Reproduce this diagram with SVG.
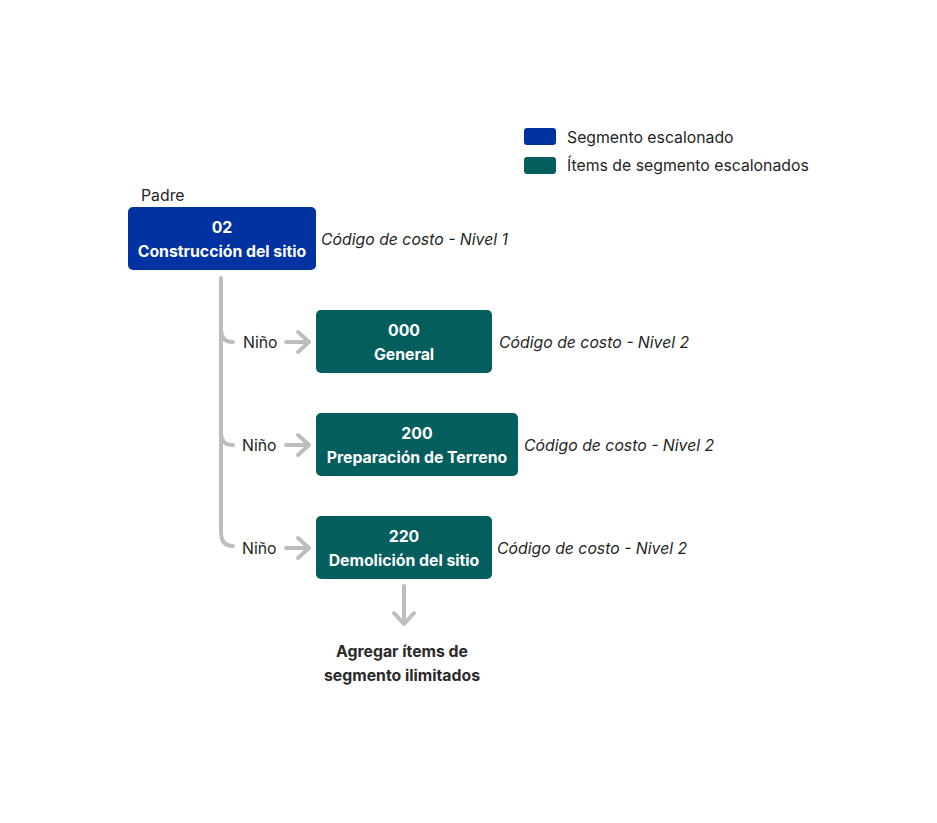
<svg xmlns="http://www.w3.org/2000/svg" width="937" height="823" viewBox="0 0 937 823">
<style>
.t{font-family:Inter,"Liberation Sans",sans-serif;font-size:15.8px;fill:#1f1f1f}
.b{font-family:Inter,"Liberation Sans",sans-serif;font-size:15.8px;font-weight:bold;fill:#ffffff;text-anchor:middle}
.i{font-family:Inter,"Liberation Sans",sans-serif;font-size:15.8px;font-style:italic;fill:#1f1f1f}
.k{font-family:Inter,"Liberation Sans",sans-serif;font-size:15.8px;font-weight:bold;fill:#2a2a2a;text-anchor:middle}
.ln{fill:none;stroke:#bdbdbd;stroke-width:4;stroke-linecap:round;stroke-linejoin:round}
.blue{fill:#0033a1}
.teal{fill:#045e5e}
</style>
<rect width="937" height="823" fill="#ffffff"/>
<g id="legend">
<rect class="blue" x="524" y="128" width="32" height="17" rx="3"/>
<text class="t" x="567" y="143">Segmento escalonado</text>
<rect class="teal" x="524" y="157" width="32" height="17" rx="3"/>
<text class="t" x="567" y="171">Ítems de segmento escalonados</text>
</g>
<g id="connectors">
<path class="ln" d="M221 278 V532 Q221 546 233 546"/>
<path class="ln" d="M221 330 Q221 342 233 342"/>
<path class="ln" d="M221 433 Q221 445 233 445"/>
<path class="ln" d="M286 342 H309 M298 332 L309 342 L298 352"/>
<path class="ln" d="M286 445 H309 M298 435 L309 445 L298 455"/>
<path class="ln" d="M286 548 H309 M298 538 L309 548 L298 558"/>
<path class="ln" d="M404 586 V624 M394 613 L404 624 L414 613"/>
</g>
<g id="parent">
<text class="t" x="141" y="201">Padre</text>
<rect class="blue" x="128" y="207" width="188" height="63" rx="5"/>
<text class="b" x="222" y="233">02</text>
<text class="b" x="222" y="257">Construcción del sitio</text>
<text class="i" x="321" y="245">Código de costo - Nivel 1</text>
</g>
<g id="child1">
<text class="t" x="243" y="348">Niño</text>
<rect class="teal" x="316" y="310" width="176" height="63" rx="5"/>
<text class="b" x="404" y="336">000</text>
<text class="b" x="404" y="360">General</text>
<text class="i" x="499" y="348">Código de costo - Nivel 2</text>
</g>
<g id="child2">
<text class="t" x="242" y="451">Niño</text>
<rect class="teal" x="316" y="413" width="202" height="63" rx="5"/>
<text class="b" x="417" y="439">200</text>
<text class="b" x="417" y="463">Preparación de Terreno</text>
<text class="i" x="524" y="451">Código de costo - Nivel 2</text>
</g>
<g id="child3">
<text class="t" x="242" y="554">Niño</text>
<rect class="teal" x="316" y="516" width="176" height="63" rx="5"/>
<text class="b" x="404" y="542">220</text>
<text class="b" x="404" y="566">Demolición del sitio</text>
<text class="i" x="497" y="554">Código de costo - Nivel 2</text>
</g>
<g id="add">
<text class="k" x="402" y="657">Agregar ítems de</text>
<text class="k" x="402" y="681">segmento ilimitados</text>
</g>
</svg>
